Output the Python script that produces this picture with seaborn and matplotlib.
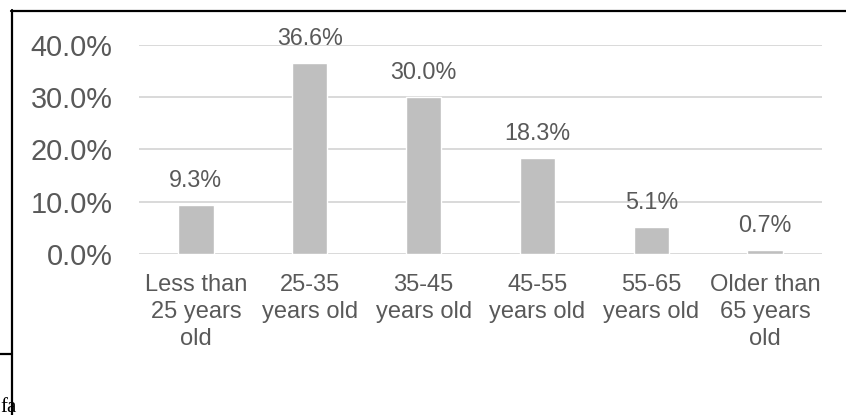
import matplotlib
matplotlib.use("Agg")
import matplotlib.pyplot as plt
import seaborn as sns
import pandas as pd
from matplotlib.lines import Line2D
from matplotlib.ticker import FuncFormatter

categories = [
    "Less than\n25 years\nold",
    "25-35\nyears old",
    "35-45\nyears old",
    "45-55\nyears old",
    "55-65\nyears old",
    "Older than\n65 years\nold",
]
shares = [9.3, 36.6, 30.0, 18.3, 5.1, 0.7]
y_ticks = [0, 10, 20, 30, 40]

sns.set_theme(style="white")
plt.rcParams["font.family"] = ["Liberation Sans", "DejaVu Sans"]

W, H, DPI = 846, 415, 100
fig = plt.figure(figsize=(W / DPI, H / DPI), dpi=DPI)
ax = fig.add_axes([139 / W, 1 - 254 / H, (822 - 139) / W, (254 - 45) / H])

df = pd.DataFrame({"age": categories, "share": shares})
sns.barplot(data=df, x="age", y="share", color="#BFBFBF", saturation=1,
            width=0.31, ax=ax, zorder=3)

text_color = "#595959"
ax.set_ylim(0, 40)
ax.set_yticks(y_ticks)
ax.yaxis.set_major_formatter(FuncFormatter(lambda v, _: f"{v:.1f}%"))
ax.grid(axis="y", color="#D9D9D9", linewidth=1.4, zorder=0)
ax.set_axisbelow(True)
for s in ax.spines.values():
    s.set_visible(False)
ax.tick_params(axis="y", length=0, pad=19, labelsize=20.8, labelcolor=text_color)
ax.tick_params(axis="x", length=0, pad=14.5, labelsize=17, labelcolor=text_color)
for lbl in ax.get_xticklabels():
    lbl.set_linespacing(1.3)
    lbl.set_horizontalalignment("center")
ax.set_xlabel("")
ax.set_ylabel("")

for i, v in enumerate(shares):
    ax.annotate(f"{v:.1f}%", xy=(i, v), xytext=(0, 9.5), textcoords="offset points",
                ha="center", va="bottom", fontsize=16.8, color=text_color,
                annotation_clip=False)

# surrounding frame and neighbouring cell fragment
fig.add_artist(Line2D([11 / W, 1], [1 - 11 / H, 1 - 11 / H], color="black",
                      linewidth=1.6, transform=fig.transFigure))
fig.add_artist(Line2D([12 / W, 12 / W], [0, 1 - 10 / H], color="black",
                      linewidth=1.6, transform=fig.transFigure))
fig.add_artist(Line2D([0, 12 / W], [1 - 354 / H, 1 - 354 / H], color="black",
                      linewidth=1.6, transform=fig.transFigure))
fig.text(0 / W, 1 - 412 / H, "fa", family=["Liberation Serif", "DejaVu Serif"],
         fontsize=15, color="black", ha="left", va="baseline", zorder=0)

fig.savefig("out.png", dpi=DPI)
